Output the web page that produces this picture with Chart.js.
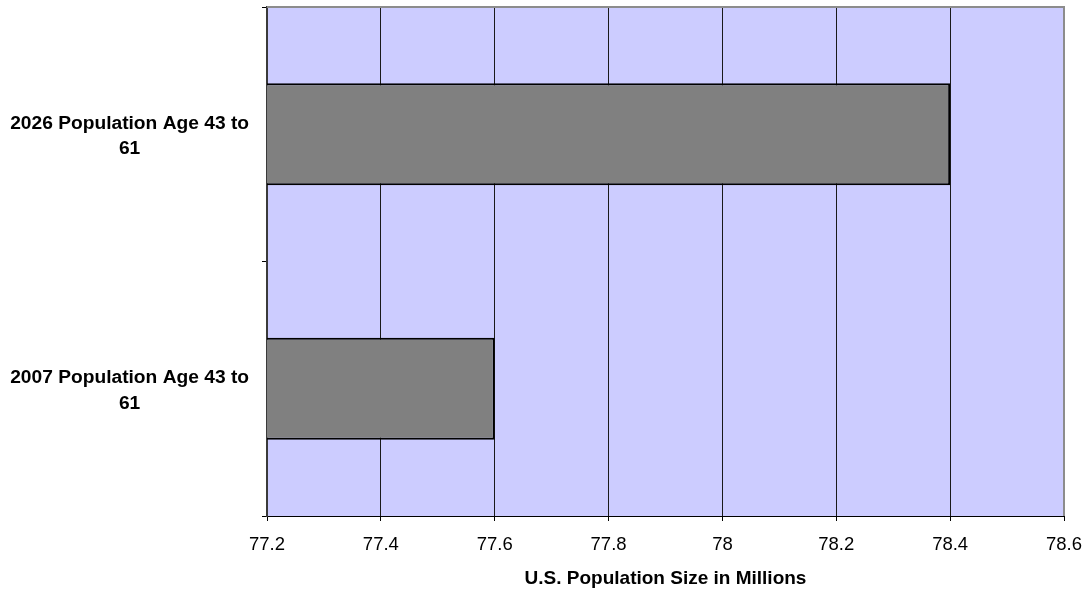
<!DOCTYPE html>
<html>
<head>
<meta charset="utf-8">
<script src="https://cdn.jsdelivr.net/npm/chart.js@4/dist/chart.umd.min.js"></script>
<style>
  html, body { margin: 0; padding: 0; background: #ffffff; }
  #wrap { width: 1087px; height: 591px; }
</style>
</head>
<body>
<div id="wrap"><canvas id="c" width="1087" height="591"></canvas></div>
<script>
const categories = [
  ['2026 Population Age 43 to', '61'],
  ['2007 Population Age 43 to', '61']
];
const populationMillions = [78.4, 77.6];
const xMin = 77.2;
const xMax = 78.6;
const xStep = 0.2;
const xAxisTitle = 'U.S. Population Size in Millions';

const FONT = '"Liberation Sans", Arial, Helvetica, sans-serif';

const plotBg = {
  id: 'plotBg',
  beforeDraw(chart) {
    const a = chart.chartArea, ctx = chart.ctx;
    ctx.save();
    ctx.fillStyle = '#CCCCFF';
    ctx.fillRect(a.left, a.top, a.right - a.left, a.bottom - a.top);
    ctx.restore();
  },
  afterDatasetsDraw(chart) {
    const a = chart.chartArea, ctx = chart.ctx;
    ctx.save();
    ctx.strokeStyle = '#8c8c8c';
    ctx.lineWidth = 2;
    ctx.beginPath();
    ctx.moveTo(a.left, a.top);
    ctx.lineTo(a.right, a.top);
    ctx.lineTo(a.right, a.bottom);
    ctx.stroke();
    ctx.restore();
  }
};

new Chart(document.getElementById('c'), {
  type: 'bar',
  data: {
    labels: categories,
    datasets: [{
      data: populationMillions,
      backgroundColor: '#808080',
      borderColor: '#000000',
      borderWidth: 2,
      borderSkipped: false,
      barPercentage: 0.4,
      categoryPercentage: 1.0
    }]
  },
  options: {
    indexAxis: 'y',
    responsive: false,
    animation: false,
    layout: { padding: { top: 7, right: 23, left: 0, bottom: 0 } },
    plugins: {
      legend: { display: false },
      tooltip: { enabled: false }
    },
    scales: {
      x: {
        type: 'linear',
        min: xMin,
        max: xMax,
        afterFit(scale) {
          scale.height = 75;
          scale.paddingLeft = 0;
          scale.paddingRight = 0;
        },
        ticks: {
          stepSize: xStep,
          color: '#000000',
          font: { family: FONT, size: 18.5 },
          padding: 13,
          maxRotation: 0,
          callback: (v) => String(Number(v.toFixed(1)))
        },
        grid: {
          color: '#1a1a1a',
          lineWidth: 1,
          drawTicks: true,
          tickLength: 5,
          tickColor: '#000000'
        },
        border: { display: true, color: '#000000', width: 1 },
        title: {
          display: true,
          text: xAxisTitle,
          color: '#000000',
          font: { family: FONT, size: 19, weight: 'bold' },
          padding: { top: 0, bottom: 1 }
        }
      },
      y: {
        afterFit(scale) {
          scale.width = 267;
          scale.paddingTop = 0;
          scale.paddingBottom = 0;
        },
        ticks: {
          color: '#000000',
          font: { family: FONT, size: 19.2, weight: 'bold', lineHeight: 1.32 },
          crossAlign: 'center',
          padding: 13,
          labelOffset: 2
        },
        grid: {
          offset: true,
          drawOnChartArea: false,
          drawTicks: true,
          tickLength: 5,
          tickColor: '#000000'
        },
        border: { display: true, color: '#3a3a3a', width: 2 }
      }
    }
  },
  plugins: [plotBg]
});
</script>
</body>
</html>
